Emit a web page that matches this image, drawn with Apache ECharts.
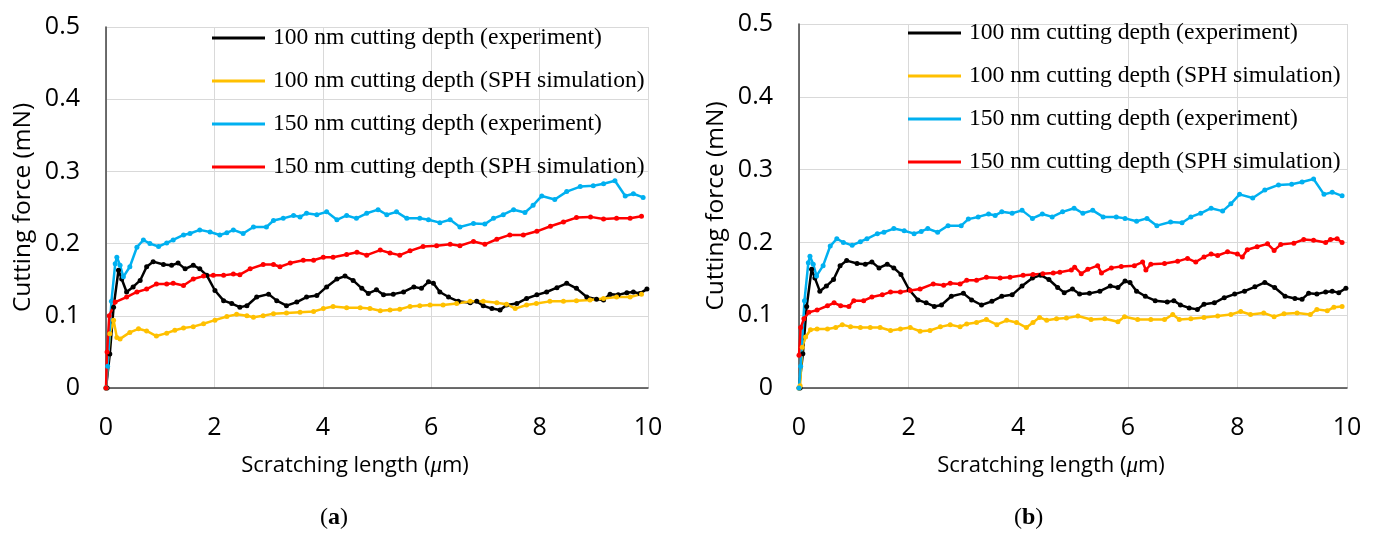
<!DOCTYPE html>
<html>
<head>
<meta charset="utf-8">
<script src="https://cdn.jsdelivr.net/npm/echarts@6/dist/echarts.min.js"></script>
<style>
  html, body { margin: 0; background: #fff; }
  #chart { width: 1377px; height: 535px; }
</style>
</head>
<body>
<div id="chart"></div>
<script>
// legend names (same for both panels)
const seriesNames = [
  '100 nm cutting depth (experiment)',
  '100 nm cutting depth (SPH simulation)',
  '150 nm cutting depth (experiment)',
  '150 nm cutting depth (SPH simulation)'
];
const seriesColors = ['#000000', '#FFC000', '#00B0F0', '#FF0000'];

// experiment curves, shared by (a) and (b)
const exp100X = [0, 0.02, 0.07, 0.14, 0.23, 0.29, 0.38, 0.5, 0.63, 0.75, 0.87, 1.06, 1.21, 1.33, 1.46, 1.61, 1.73, 1.86, 2.01, 2.17, 2.32, 2.47, 2.6, 2.78, 3.0, 3.15, 3.33, 3.52, 3.7, 3.89, 4.07, 4.26, 4.41, 4.56, 4.72, 4.84, 4.99, 5.12, 5.3, 5.49, 5.68, 5.82, 5.95, 6.04, 6.16, 6.32, 6.5, 6.72, 6.84, 6.96, 7.12, 7.27, 7.39, 7.58, 7.76, 7.95, 8.13, 8.32, 8.5, 8.68, 8.87, 9.05, 9.18, 9.3, 9.45, 9.61, 9.73, 9.85, 9.98];
const exp100Y = [0, 0, 0.047, 0.112, 0.163, 0.151, 0.133, 0.14, 0.149, 0.168, 0.175, 0.171, 0.17, 0.173, 0.165, 0.17, 0.165, 0.156, 0.135, 0.121, 0.117, 0.112, 0.114, 0.126, 0.13, 0.121, 0.114, 0.119, 0.126, 0.128, 0.14, 0.151, 0.155, 0.149, 0.138, 0.131, 0.136, 0.129, 0.13, 0.133, 0.14, 0.138, 0.147, 0.145, 0.133, 0.126, 0.12, 0.118, 0.12, 0.114, 0.11, 0.108, 0.115, 0.117, 0.124, 0.129, 0.133, 0.139, 0.145, 0.138, 0.126, 0.123, 0.122, 0.13, 0.129, 0.132, 0.133, 0.131, 0.137];

const exp150X = [0, 0.03, 0.1, 0.17, 0.2, 0.26, 0.32, 0.44, 0.57, 0.69, 0.81, 0.97, 1.12, 1.24, 1.43, 1.55, 1.73, 1.92, 2.1, 2.23, 2.35, 2.53, 2.72, 2.96, 3.09, 3.27, 3.46, 3.58, 3.7, 3.89, 4.07, 4.26, 4.44, 4.62, 4.81, 5.02, 5.18, 5.36, 5.55, 5.79, 5.95, 6.16, 6.35, 6.53, 6.78, 6.99, 7.15, 7.33, 7.52, 7.73, 7.88, 8.04, 8.28, 8.5, 8.75, 8.99, 9.18, 9.39, 9.58, 9.73, 9.91];
const exp150Y = [0, 0.03, 0.12, 0.172, 0.181, 0.17, 0.154, 0.168, 0.195, 0.205, 0.2, 0.196, 0.201, 0.205, 0.212, 0.214, 0.219, 0.216, 0.212, 0.215, 0.219, 0.214, 0.223, 0.223, 0.232, 0.235, 0.239, 0.237, 0.242, 0.24, 0.244, 0.233, 0.239, 0.235, 0.242, 0.247, 0.24, 0.244, 0.235, 0.235, 0.233, 0.229, 0.233, 0.223, 0.228, 0.227, 0.235, 0.24, 0.247, 0.243, 0.253, 0.266, 0.261, 0.272, 0.279, 0.28, 0.283, 0.287, 0.266, 0.269, 0.264];

// (a) SPH simulation
const simA100X = [0, 0.07, 0.14, 0.2, 0.26, 0.44, 0.6, 0.75, 0.93, 1.12, 1.27, 1.43, 1.61, 1.8, 2.01, 2.23, 2.41, 2.6, 2.72, 2.9, 3.09, 3.33, 3.58, 3.83, 4.01, 4.19, 4.44, 4.69, 4.87, 5.06, 5.24, 5.42, 5.61, 5.79, 5.98, 6.22, 6.47, 6.72, 6.96, 7.21, 7.39, 7.55, 7.76, 7.94, 8.19, 8.44, 8.68, 8.93, 9.18, 9.42, 9.67, 9.88];
const simA100Y = [0, 0.075, 0.094, 0.07, 0.068, 0.077, 0.082, 0.079, 0.072, 0.076, 0.08, 0.083, 0.085, 0.089, 0.094, 0.099, 0.102, 0.1, 0.098, 0.1, 0.103, 0.104, 0.105, 0.106, 0.11, 0.113, 0.111, 0.111, 0.11, 0.107, 0.108, 0.109, 0.113, 0.114, 0.115, 0.115, 0.117, 0.12, 0.12, 0.118, 0.116, 0.11, 0.115, 0.117, 0.12, 0.12, 0.121, 0.122, 0.124, 0.126, 0.126, 0.13];

const simA150X = [0, 0.02, 0.06, 0.17, 0.38, 0.57, 0.75, 0.93, 1.12, 1.24, 1.43, 1.61, 1.8, 1.98, 2.17, 2.35, 2.47, 2.66, 2.9, 3.09, 3.21, 3.4, 3.64, 3.83, 4.01, 4.19, 4.44, 4.63, 4.81, 5.06, 5.24, 5.42, 5.61, 5.85, 6.1, 6.35, 6.53, 6.78, 6.99, 7.21, 7.45, 7.7, 7.95, 8.2, 8.44, 8.68, 8.94, 9.18, 9.42, 9.67, 9.88];
const simA150Y = [0, 0.05, 0.1, 0.119, 0.126, 0.133, 0.137, 0.144, 0.144, 0.145, 0.142, 0.151, 0.155, 0.156, 0.156, 0.158, 0.157, 0.165, 0.171, 0.171, 0.168, 0.173, 0.177, 0.177, 0.181, 0.181, 0.185, 0.188, 0.184, 0.191, 0.187, 0.184, 0.19, 0.196, 0.197, 0.199, 0.197, 0.203, 0.199, 0.206, 0.212, 0.212, 0.217, 0.224, 0.23, 0.236, 0.237, 0.234, 0.235, 0.235, 0.238];

// (b) SPH simulation
const simB100X = [0, 0.02, 0.06, 0.12, 0.21, 0.33, 0.52, 0.67, 0.79, 0.94, 1.12, 1.3, 1.48, 1.67, 1.85, 2.03, 2.21, 2.39, 2.58, 2.76, 2.94, 3.06, 3.24, 3.42, 3.61, 3.79, 3.97, 4.15, 4.27, 4.39, 4.52, 4.7, 4.88, 5.09, 5.33, 5.58, 5.82, 5.94, 6.18, 6.42, 6.67, 6.82, 6.94, 7.15, 7.39, 7.64, 7.88, 8.06, 8.24, 8.48, 8.67, 8.85, 9.09, 9.33, 9.45, 9.64, 9.76, 9.91];
const simB100Y = [0, 0.003, 0.056, 0.07, 0.08, 0.081, 0.081, 0.083, 0.087, 0.084, 0.083, 0.083, 0.083, 0.079, 0.081, 0.083, 0.078, 0.079, 0.084, 0.087, 0.084, 0.088, 0.09, 0.094, 0.087, 0.093, 0.09, 0.083, 0.09, 0.097, 0.093, 0.095, 0.096, 0.099, 0.094, 0.095, 0.091, 0.098, 0.094, 0.094, 0.094, 0.101, 0.094, 0.095, 0.097, 0.099, 0.101, 0.105, 0.101, 0.103, 0.098, 0.102, 0.103, 0.101, 0.108, 0.106, 0.111, 0.112];

const simB150X = [0, 0.03, 0.09, 0.18, 0.33, 0.52, 0.64, 0.76, 0.91, 1.0, 1.18, 1.33, 1.52, 1.67, 1.85, 2.03, 2.21, 2.45, 2.64, 2.76, 2.94, 3.06, 3.24, 3.42, 3.67, 3.85, 4.09, 4.27, 4.45, 4.64, 4.76, 4.97, 5.03, 5.15, 5.27, 5.45, 5.52, 5.7, 5.88, 6.12, 6.27, 6.33, 6.42, 6.67, 6.91, 7.09, 7.24, 7.39, 7.52, 7.64, 7.82, 8.0, 8.09, 8.18, 8.36, 8.55, 8.67, 8.79, 9.03, 9.21, 9.39, 9.61, 9.7, 9.82, 9.91];
const simB150Y = [0.045, 0.083, 0.095, 0.104, 0.107, 0.113, 0.117, 0.113, 0.112, 0.12, 0.12, 0.125, 0.128, 0.132, 0.132, 0.134, 0.136, 0.143, 0.141, 0.144, 0.143, 0.148, 0.148, 0.152, 0.151, 0.152, 0.155, 0.156, 0.157, 0.158, 0.159, 0.162, 0.166, 0.157, 0.163, 0.168, 0.158, 0.165, 0.167, 0.168, 0.173, 0.162, 0.17, 0.171, 0.174, 0.178, 0.173, 0.18, 0.184, 0.182, 0.187, 0.184, 0.18, 0.19, 0.194, 0.198, 0.189, 0.197, 0.199, 0.204, 0.203, 0.2, 0.204, 0.205, 0.2];

const xTicks = { min: 0, max: 10, interval: 2 };
const yTicks = { min: 0, max: 0.5, interval: 0.1 };

const sans = 'Open Sans';
const serif = 'Liberation Serif';

function pairs(xs, ys) {
  return xs.map((x, i) => [x, ys[i]]);
}

const panels = [
  { left: 106, top: 27, width: 542, height: 361, legendLeft: 212, legendTop: 26,
    data: [pairs(exp100X, exp100Y), pairs(simA100X, simA100Y), pairs(exp150X, exp150Y), pairs(simA150X, simA150Y)] },
  { left: 799, top: 24, width: 548, height: 364, legendLeft: 908, legendTop: 21,
    data: [pairs(exp100X, exp100Y), pairs(simB100X, simB100Y), pairs(exp150X, exp150Y), pairs(simB150X, simB150Y)] }
];

const option = {
  animation: false,
  backgroundColor: '#fff',
  grid: panels.map(p => ({ left: p.left, top: p.top, width: p.width, height: p.height, containLabel: false })),
  legend: panels.map(p => ({
    orient: 'vertical',
    left: p.legendLeft,
    top: p.legendTop,
    padding: 0,
    itemGap: 19,
    itemWidth: 53,
    itemHeight: 3,
    icon: 'rect',
    selectedMode: false,
    data: seriesNames,
    textStyle: { fontFamily: serif, fontSize: 23.6, color: '#000', lineHeight: 24, padding: [0, 0, 0, 3] }
  })),
  xAxis: panels.map((p, i) => ({
    type: 'value',
    gridIndex: i,
    min: xTicks.min, max: xTicks.max, interval: xTicks.interval,
    name: 'Scratching length ({i|μ}m)',
    nameLocation: 'middle',
    nameGap: 66,
    nameTextStyle: {
      fontFamily: sans, fontSize: 22, color: '#000', padding: [0, 44, 0, 0],
      rich: { i: { fontFamily: serif, fontStyle: 'italic', fontSize: 23, color: '#000' } }
    },
    axisLine: { show: true, lineStyle: { color: '#404040', width: 1.5 } },
    axisTick: { show: false },
    axisLabel: { fontFamily: sans, fontSize: 25, color: '#000', margin: 27 },
    splitLine: { show: true, lineStyle: { color: '#d9d9d9', width: 1 } }
  })),
  yAxis: panels.map((p, i) => ({
    type: 'value',
    gridIndex: i,
    min: yTicks.min, max: yTicks.max, interval: yTicks.interval,
    name: 'Cutting force (mN)',
    nameLocation: 'middle',
    nameGap: 70,
    nameTextStyle: { fontFamily: sans, fontSize: 24.5, color: '#000' },
    axisLine: { show: true, lineStyle: { color: '#404040', width: 1.5 } },
    axisTick: { show: false },
    axisLabel: { fontFamily: sans, fontSize: 25, color: '#000', margin: 26 },
    splitLine: { show: true, lineStyle: { color: '#d9d9d9', width: 1 } }
  })),
  series: [],
  graphic: [
    { type: 'text', left: 320, top: 506, style: { text: '({b|a})', fontFamily: serif, fontSize: 24, fill: '#000',
      rich: { b: { fontFamily: serif, fontWeight: 'bold', fontSize: 24 } } } },
    { type: 'text', left: 1014, top: 506, style: { text: '({b|b})', fontFamily: serif, fontSize: 24, fill: '#000',
      rich: { b: { fontFamily: serif, fontWeight: 'bold', fontSize: 24 } } } }
  ]
};

panels.forEach((p, i) => {
  p.data.forEach((d, k) => {
    option.series.push({
      name: seriesNames[k],
      type: 'line',
      xAxisIndex: i,
      yAxisIndex: i,
      data: d,
      color: seriesColors[k],
      symbol: 'circle',
      symbolSize: 5,
      showSymbol: true,
      lineStyle: { width: 2.5, color: seriesColors[k] },
      itemStyle: { color: seriesColors[k] }
    });
  });
});

const chart = echarts.init(document.getElementById('chart'), null, { renderer: 'canvas' });
chart.setOption(option);
</script>
</body>
</html>
